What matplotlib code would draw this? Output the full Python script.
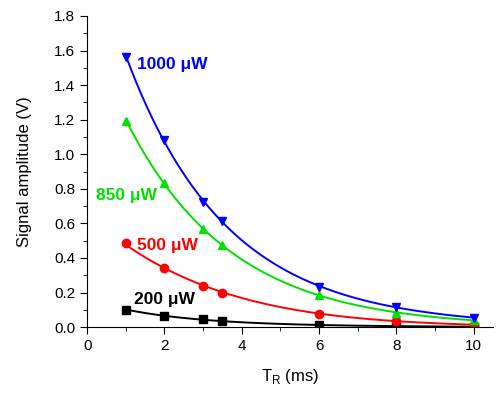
import numpy as np
import matplotlib
matplotlib.use("Agg")
import matplotlib.pyplot as plt
from matplotlib.ticker import MultipleLocator

plt.rcParams['font.family'] = ['Liberation Sans', 'DejaVu Sans']

# repetition time (ms)
tr = [1, 2, 3, 3.5, 6, 8, 10]

# signal amplitudes (V)
s200 = [0.098, 0.064, 0.046, 0.036, 0.013, 0.005, 0.003]
s500 = [0.487, 0.341, 0.240, 0.195, 0.078, 0.037, 0.014]
s850 = [1.19, 0.833, 0.567, 0.475, 0.187, 0.083, 0.040]
s1000 = [1.565, 1.082, 0.723, 0.613, 0.235, 0.116, 0.055]

labels = ["200 \u03bcW", "500 \u03bcW", "850 \u03bcW", "1000 \u03bcW"]
colors = ["black", "#ff0000", "#00e000", "#0000ff"]
markers = ["s", "o", "^", "v"]
label_pos = [(1.2, 0.16), (1.3, 0.475), (0.22, 0.76), (1.3, 1.52)]

fig = plt.figure(figsize=(5.01, 3.98), dpi=100)
ax = fig.add_axes([0.174, 0.178, 0.81, 0.782])

x = np.array(tr, dtype=float)
xf = np.linspace(1, 10, 200)
for ys, lab, c, m, (lx, ly) in zip([s200, s500, s850, s1000], labels, colors, markers, label_pos):
    y = np.array(ys)
    # smooth fit in log space
    p = np.polyfit(x, np.log(y), 2)
    ax.plot(xf, np.exp(np.polyval(p, xf)), color=c, lw=1.4)
    ax.plot(x, y, ls="none", marker=m, color=c, ms=6)
    ax.text(lx, ly, lab, color=c, fontsize=12.5, fontweight="bold", va="center")

ax.set_xlim(0, 10.5)
ax.set_ylim(0, 1.8)
ax.xaxis.set_major_locator(MultipleLocator(2))
ax.xaxis.set_minor_locator(MultipleLocator(1))
ax.yaxis.set_major_locator(MultipleLocator(0.2))
ax.yaxis.set_minor_locator(MultipleLocator(0.1))
ax.yaxis.set_major_formatter(matplotlib.ticker.FormatStrFormatter('%.1f'))
ax.spines['top'].set_visible(False)
ax.spines['right'].set_visible(False)
ax.tick_params(which='major', length=5, labelsize=11)
ax.tick_params(which='minor', length=3)
ax.set_xlabel("T$_\\mathregular{R}$ (ms)", fontsize=12, labelpad=10)
ax.set_ylabel("Signal amplitude (V)", fontsize=12, labelpad=16)

fig.savefig("out.png", dpi=100)
